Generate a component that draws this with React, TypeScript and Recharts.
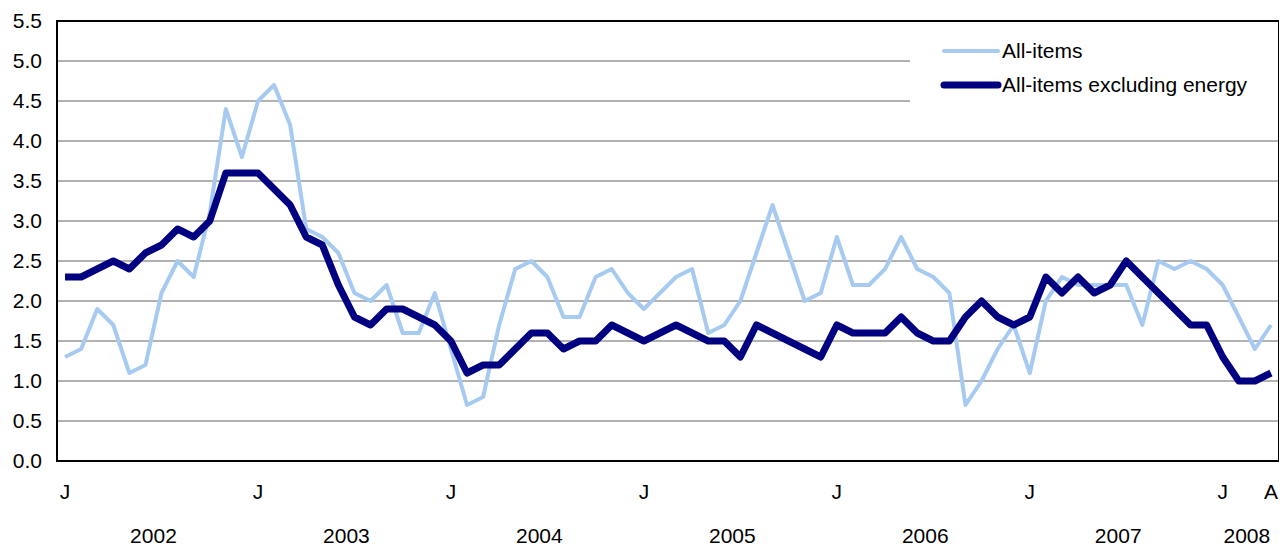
import React from 'react';
import { LineChart, Line, XAxis, YAxis, CartesianGrid, Legend, ReferenceArea } from 'recharts';

const years = ['2002', '2003', '2004', '2005', '2006', '2007', '2008'];
const monthLetters = ['J', 'F', 'M', 'A', 'M', 'J', 'J', 'A', 'S', 'O', 'N', 'D'];
const monthsInLastYear = 4;

const allItems = [
  1.3, 1.4, 1.9, 1.7, 1.1, 1.2, 2.1, 2.5, 2.3, 3.1, 4.4, 3.8,
  4.5, 4.7, 4.2, 2.9, 2.8, 2.6, 2.1, 2.0, 2.2, 1.6, 1.6, 2.1,
  1.4, 0.7, 0.8, 1.7, 2.4, 2.5, 2.3, 1.8, 1.8, 2.3, 2.4, 2.1,
  1.9, 2.1, 2.3, 2.4, 1.6, 1.7, 2.0, 2.6, 3.2, 2.6, 2.0, 2.1,
  2.8, 2.2, 2.2, 2.4, 2.8, 2.4, 2.3, 2.1, 0.7, 1.0, 1.4, 1.7,
  1.1, 2.0, 2.3, 2.2, 2.2, 2.2, 2.2, 1.7, 2.5, 2.4, 2.5, 2.4,
  2.2, 1.8, 1.4, 1.7,
];

const exEnergy = [
  2.3, 2.3, 2.4, 2.5, 2.4, 2.6, 2.7, 2.9, 2.8, 3.0, 3.6, 3.6,
  3.6, 3.4, 3.2, 2.8, 2.7, 2.2, 1.8, 1.7, 1.9, 1.9, 1.8, 1.7,
  1.5, 1.1, 1.2, 1.2, 1.4, 1.6, 1.6, 1.4, 1.5, 1.5, 1.7, 1.6,
  1.5, 1.6, 1.7, 1.6, 1.5, 1.5, 1.3, 1.7, 1.6, 1.5, 1.4, 1.3,
  1.7, 1.6, 1.6, 1.6, 1.8, 1.6, 1.5, 1.5, 1.8, 2.0, 1.8, 1.7,
  1.8, 2.3, 2.1, 2.3, 2.1, 2.2, 2.5, 2.3, 2.1, 1.9, 1.7, 1.7,
  1.3, 1.0, 1.0, 1.1,
];

const yTicks = [0, 0.5, 1.0, 1.5, 2.0, 2.5, 3.0, 3.5, 4.0, 4.5, 5.0, 5.5];

const seriesNames = ['All-items', 'All-items excluding energy'];
const seriesKeys = ['allItems', 'exEnergy'];
const seriesColors = ['#A6CAF0', '#000080'];
const seriesWidths = [4, 7];

const periods = years.flatMap((y, yi) =>
  monthLetters
    .slice(0, yi === years.length - 1 ? monthsInLastYear : 12)
    .map((m, mi) => ({ year: y, month: m, monthIndex: mi }))
);

const data = periods.map((p, i) => ({
  idx: i,
  label: p.month,
  year: p.year,
  monthIndex: p.monthIndex,
  allItems: allItems[i],
  exEnergy: exEnergy[i],
}));

const lastIdx = data.length - 1;
const xTicks = data.filter((d) => d.monthIndex === 0 || d.idx === lastIdx).map((d) => d.idx);
const yearTicks = years.map((y) => {
  const idxs = data.filter((d) => d.year === y).map((d) => d.idx);
  return (idxs[0] + idxs[idxs.length - 1]) / 2;
});
const yearTickLabel = (v: number) => {
  const i = yearTicks.indexOf(v);
  return i >= 0 ? years[i] : '';
};

const xDomain: [number, number] = [-0.5, lastIdx + 0.5];
const yDomain: [number, number] = [0, 5.5];

const font = "'Liberation Sans', Arial, Helvetica, sans-serif";
const tickStyle = { fontFamily: font, fontSize: 21, fill: '#000' };
const borderLine = { stroke: '#000', strokeWidth: 2 };

const renderLegend = () => (
  <div style={{ width: '100%', height: '100%', background: '#fff', fontFamily: font, fontSize: 21, color: '#000', position: 'relative' }}>
    {seriesNames.map((name, i) => (
      <div key={name} style={{ position: 'absolute', left: 30, top: 29 + i * 34 - 14, height: 28, display: 'flex', alignItems: 'center', whiteSpace: 'nowrap' }}>
        <svg width={62} height={12} style={{ display: 'block' }}>
          <line x1={4} y1={6} x2={58} y2={6} stroke={seriesColors[i]} strokeWidth={seriesWidths[i]} strokeLinecap="round" />
        </svg>
        <span>{name}</span>
      </div>
    ))}
  </div>
);

export default function App() {
  return (
    <>
      <style>{'html, body { overflow: hidden; }'}</style>
      <LineChart
        width={1279}
        height={540}
        data={data}
        margin={{ top: 13, right: 8, bottom: 0, left: 0 }}
      >
        <CartesianGrid horizontal vertical={false} stroke="#999999" strokeWidth={1.5} />
        <XAxis
          dataKey="idx"
          type="number"
          domain={xDomain}
          ticks={xTicks}
          tickFormatter={(v: number) => data[v]?.label ?? ''}
          interval={0}
          height={40}
          tickLine={false}
          tickSize={0}
          tickMargin={23}
          axisLine={borderLine}
          tick={tickStyle}
          allowDecimals
        />
        <XAxis
          xAxisId="year"
          dataKey="idx"
          type="number"
          domain={xDomain}
          ticks={yearTicks}
          tickFormatter={yearTickLabel}
          interval={0}
          height={47}
          tickLine={false}
          tickSize={0}
          tickMargin={27}
          axisLine={false}
          tick={tickStyle}
          allowDecimals
        />
        <YAxis
          type="number"
          domain={yDomain}
          ticks={yTicks}
          tickFormatter={(v: number) => v.toFixed(1)}
          interval={0}
          width={49}
          tickLine={false}
          tickSize={0}
          tickMargin={15}
          axisLine={borderLine}
          tick={tickStyle}
        />
        <ReferenceArea
          x1={xDomain[0]}
          x2={xDomain[1]}
          y1={yDomain[0]}
          y2={yDomain[1]}
          fill="none"
          fillOpacity={0}
          stroke="#000"
          strokeWidth={2}
          strokeOpacity={1}
          ifOverflow="visible"
        />
        {seriesKeys.map((k, i) => (
          <Line
            key={k}
            type="linear"
            dataKey={k}
            name={seriesNames[i]}
            stroke={seriesColors[i]}
            strokeWidth={seriesWidths[i]}
            dot={false}
            activeDot={false}
            isAnimationActive={false}
            strokeLinejoin="round"
          />
        ))}
        <Legend
          layout="horizontal"
          verticalAlign="middle"
          align="center"
          content={renderLegend}
          wrapperStyle={{ left: 902, top: 14, width: 368, height: 101, right: 'auto', bottom: 'auto', margin: 0 }}
        />
      </LineChart>
    </>
  );
}
